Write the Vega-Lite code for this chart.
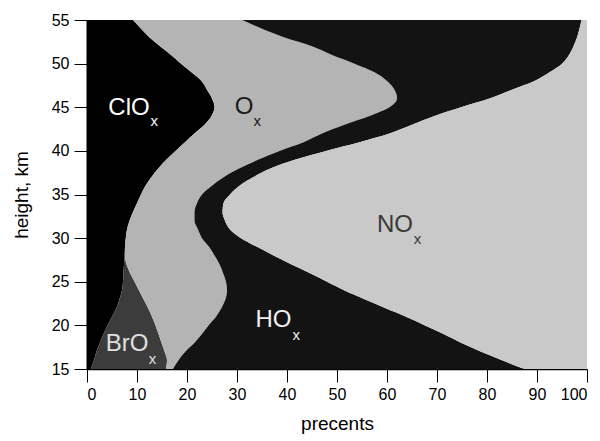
{
  "$schema": "https://vega.github.io/schema/vega-lite/v6.json",
  "width": 500,
  "height": 349,
  "autosize": {"type": "none"},
  "padding": {"left": 87, "top": 20, "right": 13, "bottom": 72},
  "background": "white",
  "config": {"view": {"stroke": null}, "font": "Liberation Sans"},
  "datasets": {
    "profile": [
      {"h":15,"ClOx":0.8,"BrOx":15.0,"Ox":1.4,"HOx":70.3,"NOx":12.5},
      {"h":16,"ClOx":1.4,"BrOx":14.6,"Ox":2.3,"HOx":64.7,"NOx":17.0},
      {"h":17,"ClOx":1.9,"BrOx":13.6,"Ox":4.2,"HOx":59.0,"NOx":21.3},
      {"h":18,"ClOx":2.6,"BrOx":12.3,"Ox":6.6,"HOx":53.3,"NOx":25.2},
      {"h":19,"ClOx":3.3,"BrOx":11.0,"Ox":8.7,"HOx":48.3,"NOx":28.7},
      {"h":20,"ClOx":4.1,"BrOx":9.6,"Ox":10.6,"HOx":43.3,"NOx":32.4},
      {"h":21,"ClOx":5.0,"BrOx":8.0,"Ox":12.8,"HOx":38.0,"NOx":36.2},
      {"h":22,"ClOx":5.9,"BrOx":6.3,"Ox":14.7,"HOx":32.7,"NOx":40.4},
      {"h":23,"ClOx":6.5,"BrOx":4.8,"Ox":16.4,"HOx":27.8,"NOx":44.5},
      {"h":24,"ClOx":7.0,"BrOx":3.4,"Ox":17.6,"HOx":23.5,"NOx":48.5},
      {"h":25,"ClOx":7.2,"BrOx":2.3,"Ox":18.3,"HOx":20.2,"NOx":52.0},
      {"h":26,"ClOx":7.3,"BrOx":1.3,"Ox":18.6,"HOx":17.3,"NOx":55.5},
      {"h":27,"ClOx":7.4,"BrOx":0.5,"Ox":18.6,"HOx":14.3,"NOx":59.2},
      {"h":28,"ClOx":7.5,"BrOx":0.1,"Ox":17.9,"HOx":11.8,"NOx":62.7},
      {"h":29,"ClOx":7.6,"BrOx":0,"Ox":16.8,"HOx":9.6,"NOx":66.0},
      {"h":30,"ClOx":7.75,"BrOx":0,"Ox":15.25,"HOx":7.8,"NOx":69.2},
      {"h":31,"ClOx":8.0,"BrOx":0,"Ox":14.2,"HOx":6.4,"NOx":71.4},
      {"h":32,"ClOx":8.5,"BrOx":0,"Ox":13.0,"HOx":6.1,"NOx":72.4},
      {"h":33,"ClOx":9.2,"BrOx":0,"Ox":12.3,"HOx":5.6,"NOx":72.9},
      {"h":34,"ClOx":10.0,"BrOx":0,"Ox":12.0,"HOx":5.3,"NOx":72.7},
      {"h":35,"ClOx":10.8,"BrOx":0,"Ox":12.2,"HOx":5.6,"NOx":71.4},
      {"h":36,"ClOx":11.7,"BrOx":0,"Ox":13.3,"HOx":5.5,"NOx":69.5},
      {"h":37,"ClOx":12.9,"BrOx":0,"Ox":14.5,"HOx":5.9,"NOx":66.7},
      {"h":38,"ClOx":14.3,"BrOx":0,"Ox":16.2,"HOx":6.3,"NOx":63.2},
      {"h":39,"ClOx":15.9,"BrOx":0,"Ox":18.4,"HOx":7.4,"NOx":58.3},
      {"h":40,"ClOx":17.7,"BrOx":0,"Ox":20.8,"HOx":9.3,"NOx":52.2},
      {"h":41,"ClOx":19.6,"BrOx":0,"Ox":23.7,"HOx":11.2,"NOx":45.5},
      {"h":42,"ClOx":21.5,"BrOx":0,"Ox":25.5,"HOx":13.5,"NOx":39.5},
      {"h":43,"ClOx":23.5,"BrOx":0,"Ox":28.0,"HOx":13.5,"NOx":35.0},
      {"h":44,"ClOx":24.9,"BrOx":0,"Ox":31.6,"HOx":13.0,"NOx":30.5},
      {"h":45,"ClOx":25.5,"BrOx":0,"Ox":35.0,"HOx":14.3,"NOx":25.2},
      {"h":46,"ClOx":25.0,"BrOx":0,"Ox":37.0,"HOx":18.5,"NOx":19.5},
      {"h":47,"ClOx":24.0,"BrOx":0,"Ox":37.5,"HOx":23.5,"NOx":15.0},
      {"h":48,"ClOx":22.9,"BrOx":0,"Ox":37.1,"HOx":29.5,"NOx":10.5},
      {"h":49,"ClOx":20.9,"BrOx":0,"Ox":36.6,"HOx":35.0,"NOx":7.5},
      {"h":50,"ClOx":18.8,"BrOx":0,"Ox":34.7,"HOx":41.5,"NOx":5.0},
      {"h":51,"ClOx":16.8,"BrOx":0,"Ox":32.2,"HOx":47.4,"NOx":3.6},
      {"h":52,"ClOx":14.6,"BrOx":0,"Ox":30.4,"HOx":52.3,"NOx":2.7},
      {"h":53,"ClOx":12.5,"BrOx":0,"Ox":27.0,"HOx":58.5,"NOx":2.0},
      {"h":54,"ClOx":10.8,"BrOx":0,"Ox":24.2,"HOx":63.5,"NOx":1.5},
      {"h":55,"ClOx":9.2,"BrOx":0,"Ox":21.8,"HOx":67.9,"NOx":1.1}
    ],
    "stackOrder": [
      {"species":"ClOx","rank":1},
      {"species":"BrOx","rank":2},
      {"species":"Ox","rank":3},
      {"species":"HOx","rank":4},
      {"species":"NOx","rank":5}
    ],
    "labels": [
      {"name":"ClO","p":8.4,"h":44.9,"sp":13.46,"sh":43.38},
      {"name":"O","p":31.4,"h":45.05,"sp":34.06,"sh":43.42},
      {"name":"NO","p":61.6,"h":31.55,"sp":66.1,"sh":29.89},
      {"name":"HO","p":37.3,"h":20.65,"sp":41.86,"sh":18.88},
      {"name":"BrO","p":8.0,"h":17.9,"sp":13.1,"sh":16.2}
    ]
  },
  "layer": [
    {
      "data": {"name": "profile"},
      "transform": [
        {"fold": ["ClOx","BrOx","Ox","HOx","NOx"], "as": ["species","share"]},
        {"lookup": "species", "from": {"data": {"name": "stackOrder"}, "key": "species", "fields": ["rank"]}}
      ],
      "mark": {"type": "area", "orient": "horizontal", "interpolate": "monotone"},
      "encoding": {
        "y": {"field": "h", "type": "quantitative",
              "scale": {"domain": [15, 55], "nice": false, "zero": false},
              "axis": {"title": "height, km", "values": [15,17.5,20,22.5,25,27.5,30,32.5,35,37.5,40,42.5,45,47.5,50,52.5,55],
                       "labelExpr": "datum.value % 5 === 0 ? datum.label : ''",
                       "tickSize": {"condition": {"test": "datum.value % 5 === 0", "value": 13}, "value": 7},
                       "grid": false, "domainColor": "black", "domainWidth": 2, "tickColor": "black", "tickWidth": 1,
                       "labelFontSize": 16, "labelColor": "black", "labelFont": "Liberation Sans", "labelPadding": 5,
                       "titleFontSize": 19, "titleFont": "Liberation Sans", "titleFontWeight": "normal", "titleColor": "black", "titlePadding": 20}},
        "x": {"field": "share", "type": "quantitative", "stack": "zero",
              "scale": {"domain": [0, 100], "nice": false},
              "axis": {"title": "precents", "values": [0,5,10,15,20,25,30,35,40,45,50,55,60,65,70,75,80,85,90,95,100],
                       "labelExpr": "datum.value % 10 === 0 ? datum.label : ''",
                       "tickSize": {"condition": {"test": "datum.value % 10 === 0", "value": 13}, "value": 7},
                       "grid": false, "domainColor": "black", "domainWidth": 1.5, "tickColor": "black", "tickWidth": 1,
                       "labelFontSize": 16, "labelColor": "black", "labelFont": "Liberation Sans", "labelPadding": 4,
                       "titleFontSize": 19, "titleFont": "Liberation Sans", "titleFontWeight": "normal", "titleColor": "black", "titlePadding": 12}},
        "color": {"field": "species", "type": "nominal",
                  "scale": {"domain": ["ClOx","BrOx","Ox","HOx","NOx"], "range": ["#000000","#3c3c3c","#b4b4b4","#131313","#c9c9c9"]},
                  "legend": null},
        "order": {"field": "rank", "type": "quantitative", "sort": "ascending"}
      }
    },
    {
      "data": {"name": "labels"},
      "mark": {"type": "text", "align": "center", "baseline": "middle", "fontSize": 24, "font": "Liberation Sans"},
      "encoding": {
        "x": {"field": "p", "type": "quantitative"},
        "y": {"field": "h", "type": "quantitative"},
        "text": {"field": "name"},
        "color": {"field": "name", "type": "nominal",
                  "scale": {"domain": ["ClO","O","NO","HO","BrO"], "range": ["#ffffff","#1a1a1a","#3a3a3a","#f0f0f0","#e0e0e0"]},
                  "legend": null}
      }
    },
    {
      "data": {"name": "labels"},
      "mark": {"type": "text", "align": "center", "baseline": "middle", "fontSize": 15, "font": "Liberation Sans", "text": "x"},
      "encoding": {
        "x": {"field": "sp", "type": "quantitative"},
        "y": {"field": "sh", "type": "quantitative"},
        "color": {"field": "name", "type": "nominal",
                  "scale": {"domain": ["ClO","O","NO","HO","BrO"], "range": ["#ffffff","#1a1a1a","#3a3a3a","#f0f0f0","#e0e0e0"]},
                  "legend": null}
      }
    }
  ],
  "resolve": {"scale": {"color": "independent"}}
}
